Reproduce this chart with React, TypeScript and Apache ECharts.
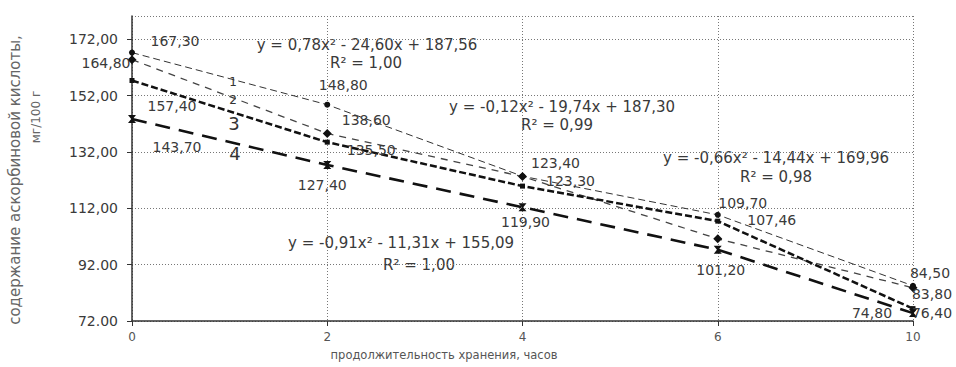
import React, { useEffect, useRef } from 'react';
import * as echarts from 'echarts';

// ---- data ----
const categories = ['0', '2', '4', '6', '10'];
const series1 = [167.3, 148.8, 123.4, 109.7, 84.5];
const series2 = [164.8, 138.6, 123.3, 101.2, 83.8];
const series3 = [157.4, 135.5, 119.9, 107.46, 76.4];
const series4 = [143.7, 127.4, 112.4, 97.3, 74.8];
const seriesNames = ['1', '2', '3', '4'];
const yTickValues = [72, 92, 112, 132, 152, 172];
const yTickLabels = ['72.00', '92.00', '112,00', '132,00', '152,00', '172,00'];
const trendEquations = [
  'y = 0,78x² - 24,60x + 187,56',
  'y = -0,12x² - 19,74x + 187,30',
  'y = -0,66x² - 14,44x + 169,96',
  'y = -0,91x² - 11,31x + 155,09',
];
const trendR2 = ['R² = 1,00', 'R² = 0,99', 'R² = 0,98', 'R² = 1,00'];
const xTitle = 'продолжительность хранения, часов';
const yTitle1 = 'содержание аскорбиновой кислоты,';
const yTitle2 = 'мг/100 г';

// ---- layout (positions / styles) ----
const FONT = 'DejaVu Sans';
const TXT = '#3a3a3a';
const labelOffsets: (number[] | null)[][] = [
  [[43, -12], [16, -20], [33, -13], [25, -12], [17, -13]],
  [[-26, 3], [39, -13], [48, 4], [3, 31], [19, 6]],
  [[40, 26], [44, 8], [3, 36], [54, -1], [19, 4]],
  [[45, 28], [-5, 20], null, null, [-41, 0]],
];
const eqPos = [
  [367, 45, 366, 63],
  [562, 107, 557, 125],
  [776, 158, 776, 177],
  [401, 243, 419, 265],
];
const nameLabelPos = [
  [233, 82],
  [233, 100],
  [234, 123],
  [235, 153],
];
const nameLabelSizes = [12, 12, 18, 18];
const lineStyles = [
  { color: '#333', width: 1, type: [7, 4] },
  { color: '#444', width: 1.3, type: [7, 6] },
  { color: '#111', width: 2.5, type: [7, 3] },
  { color: '#111', width: 2.6, type: [15, 9] },
];
const symbols = ['circle', 'diamond', 'rect', 'path://M0,0L10,0L6,5L10,10L0,10L4,5Z'];
const symbolSizes = [6, 9, 5, 8];
const gridLine = { color: '#777', type: [1, 2], width: 1 };

const fmt = (v: number) => v.toFixed(2).replace('.', ',');

export default function App() {
  const ref = useRef<HTMLDivElement>(null);
  useEffect(() => {
    document.body.style.margin = '0';
    if (!ref.current) return;
    const chart = echarts.init(ref.current, undefined, { renderer: 'svg' });
    const allSeries = [series1, series2, series3, series4];
    const series = allSeries.map((vals, si) => ({
      name: seriesNames[si],
      type: 'line',
      data: vals.map((v, i) => {
        const off = labelOffsets[si][i];
        return {
          value: v,
          label: off
            ? { show: true, position: 'inside', offset: off, formatter: () => fmt(v) }
            : { show: false },
        };
      }),
      symbol: symbols[si],
      symbolSize: symbolSizes[si],
      showSymbol: true,
      itemStyle: { color: '#111' },
      lineStyle: lineStyles[si],
      label: {
        fontFamily: FONT,
        fontSize: 14,
        color: TXT,
        align: 'center',
        verticalAlign: 'middle',
      },
      z: 3,
    }));

    const graphics: any[] = [];
    trendEquations.forEach((eq, i) => {
      const p = eqPos[i];
      graphics.push({
        type: 'text',
        x: p[0],
        y: p[1],
        style: { text: eq, font: `15px "${FONT}"`, fill: TXT, textAlign: 'center', textVerticalAlign: 'middle' },
      });
      graphics.push({
        type: 'text',
        x: p[2],
        y: p[3],
        style: { text: trendR2[i], font: `15px "${FONT}"`, fill: TXT, textAlign: 'center', textVerticalAlign: 'middle' },
      });
    });
    seriesNames.forEach((n, i) => {
      graphics.push({
        type: 'text',
        x: nameLabelPos[i][0],
        y: nameLabelPos[i][1],
        style: {
          text: n,
          font: `${nameLabelSizes[i]}px "${FONT}"`,
          fill: '#333',
          textAlign: 'center',
          textVerticalAlign: 'middle',
        },
      });
    });
    graphics.push({
      type: 'text',
      x: 444,
      y: 355,
      style: { text: xTitle, font: `11.5px "${FONT}"`, fill: '#555', textAlign: 'center', textVerticalAlign: 'middle' },
    });
    graphics.push({
      type: 'text',
      x: 15,
      y: 180,
      rotation: Math.PI / 2,
      style: { text: yTitle1, font: `15px "${FONT}"`, fill: '#666', textAlign: 'center', textVerticalAlign: 'middle' },
    });
    graphics.push({
      type: 'text',
      x: 36,
      y: 117,
      rotation: Math.PI / 2,
      style: { text: yTitle2, font: `12px "${FONT}"`, fill: '#666', textAlign: 'center', textVerticalAlign: 'middle' },
    });

    chart.setOption({
      animation: false,
      grid: { left: 132, right: 43, top: 16, bottom: 46, outerBoundsMode: 'none' },
      xAxis: {
        type: 'category',
        data: categories,
        boundaryGap: false,
        axisLine: { lineStyle: { color: '#333', width: 1.5 } },
        axisTick: { show: true, length: 5, lineStyle: { color: '#333' } },
        axisLabel: { fontFamily: FONT, fontSize: 12, color: '#555', margin: 10 },
        splitLine: { show: true, lineStyle: gridLine },
      },
      yAxis: {
        type: 'value',
        min: 72,
        max: 180.3,
        interval: 20,
        axisLine: { show: true, lineStyle: { color: '#333', width: 1.5 } },
        axisTick: { show: true, length: 5, lineStyle: { color: '#333' } },
        axisLabel: {
          fontFamily: FONT,
          fontSize: 14,
          color: TXT,
          margin: 14,
          showMaxLabel: false,
          formatter: (v: number) => {
            const idx = yTickValues.findIndex((t) => Math.abs(t - v) < 0.01);
            return idx >= 0 ? yTickLabels[idx] : '';
          },
        },
        splitLine: { show: true, lineStyle: gridLine },
      },
      series,
      graphic: graphics,
    });
    return () => chart.dispose();
  }, []);
  return <div ref={ref} style={{ width: 956, height: 367 }} />;
}
